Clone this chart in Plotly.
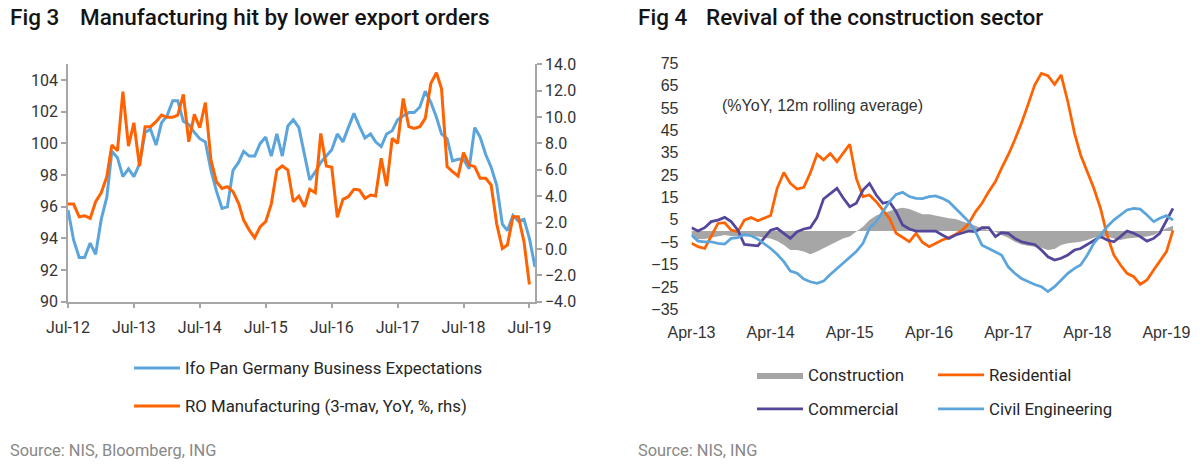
import plotly.graph_objects as go
from datetime import date

W, H = 1200, 466
FONT = "Roboto, 'Open Sans', sans-serif"
ARIAL = "'Liberation Sans', Arial, sans-serif"

# ---------------- data ----------------
ifo_expectations = [
    95.8, 93.9, 92.8, 92.8, 93.7, 93.0, 95.2, 96.6, 99.5, 99.1,
    97.9, 98.4, 97.9, 98.7, 100.7, 100.9, 99.9, 101.3, 101.75, 102.7,
    102.7, 101.4, 101.2, 100.7, 100.3, 100.1, 98.3, 97.0, 95.9, 96.0,
    98.3, 98.8, 99.5, 99.2, 99.2, 100.0, 100.4, 99.2, 100.6, 99.2,
    101.1, 101.5, 101.0, 99.3, 97.7, 98.2, 98.8, 99.2, 99.6, 100.6,
    100.1, 101.0, 101.9, 101.1, 100.35, 100.6, 100.1, 99.8, 100.6, 100.8,
    101.5, 101.75, 101.95, 101.95, 102.3, 103.3, 102.6, 101.65, 100.6, 100.3,
    98.9, 99.0, 99.0, 98.4, 101.0, 100.4, 99.3, 98.5, 97.35, 94.9,
    94.5, 95.45, 95.1, 95.2, 94.0, 92.2,
]
ro_manufacturing = [
    3.40, 3.40, 2.44, 2.52, 2.32, 3.58, 4.26, 5.48, 7.88, 7.45,
    11.92, 7.80, 9.57, 6.29, 9.27, 9.27, 9.65, 10.15, 9.98, 9.98,
    10.15, 11.72, 8.13, 10.2, 9.19, 11.09, 6.74, 5.10, 4.59, 4.72,
    4.34, 3.46, 2.19, 1.43, 0.85, 1.69, 2.07, 3.40, 5.98, 6.29,
    5.98, 3.58, 4.01, 3.20, 4.52, 4.26, 8.76, 6.29, 6.19, 2.40,
    3.76, 3.96, 4.52, 4.47, 3.83, 4.09, 4.01, 6.87, 4.77, 8.38,
    8.00, 11.41, 9.27, 9.14, 9.27, 9.90, 12.55, 13.36, 12.17, 6.24,
    5.86, 5.53, 7.30, 6.37, 6.24, 5.36, 5.36, 4.85, 1.89, 0.04,
    0.30, 2.44, 2.44, 0.55, -2.70,
]
left_tick_labels = ["Jul-12", "Jul-13", "Jul-14", "Jul-15", "Jul-16", "Jul-17", "Jul-18", "Jul-19"]

construction = [
    -2.5, -3.7, -3.6, -3.0, -2.1, -1.8, -2.2, -2.5, -2.5, -2.5,
    -2.5, -3.0, -3.3, -4.5, -6.3, -8.5, -8.5, -9.2, -10.4, -9.2,
    -7.8, -6.3, -4.8, -3.3, -2.5, -0.3, 1.9, 4.9, 6.9, 7.9,
    8.9, 9.8, 10.4, 9.8, 8.6, 7.5, 7.5, 6.9, 6.0, 5.7,
    5.4, 4.2, 3.4, 2.4, 1.2, 0.4, -0.3, -1.8, -3.0, -4.8,
    -6.0, -6.6, -7.0, -7.5, -8.5, -8.0, -6.3, -5.5, -5.1, -4.8,
    -4.0, -3.0, -2.5, -2.5, -3.3, -4.0, -3.3, -3.0, -2.5, -2.5,
    -1.8, -0.3, 1.2, 2.4,
]
residential = [
    -5.5, -7.0, -7.8, -2.5, 3.4, 3.7, 0.4, -0.3, 4.9, 6.0,
    4.6, 5.7, 6.9, 19.1, 26.2, 21.3, 18.8, 19.5, 26.0, 34.3,
    31.8, 34.7, 31.0, 34.7, 38.8, 23.6, 15.4, 16.1, 13.1, 9.4,
    5.7, -1.0, -3.0, -4.8, -1.0, -5.0, -7.0, -5.5, -4.0, -3.0,
    -1.5, 0.4, 3.4, 8.6, 12.4, 17.6, 22.1, 28.0, 34.0, 40.7,
    48.2, 56.4, 65.3, 70.5, 69.5, 65.6, 69.8, 57.8, 43.7, 34.0,
    26.5, 19.1, 10.1, -1.8, -10.7, -15.2, -18.9, -20.4, -23.9, -21.9,
    -17.4, -13.7, -9.2, 0.3,
]
commercial = [
    1.5, 0.0, 1.5, 4.2, 4.9, 6.1, 4.2, 0.4, -6.0, -6.3,
    -6.6, -3.3, 0.4, 1.2, -1.0, -3.3, -0.3, 0.9, 1.5, 6.0,
    14.3, 16.8, 19.1, 14.9, 10.9, 12.4, 18.3, 21.3, 16.1, 12.4,
    13.1, 8.6, 2.7, 0.9, 0.0, 0.0, 0.0, 0.0, -1.8, -3.3,
    -1.8, -1.0, 0.0, -0.3, 1.5, 1.5, -2.5, -0.7, -1.0, -3.3,
    -4.8, -5.5, -6.0, -8.5, -11.5, -13.0, -12.2, -10.7, -8.5, -7.8,
    -6.0, -4.0, -2.5, -4.0, -4.8, -2.5, 0.0, -1.0, -2.5, -4.5,
    -3.3, -1.0, 4.9, 10.1,
]
civil_engineering = [
    -1.8, -4.5, -4.8, -4.8, -5.5, -5.8, -3.3, -3.0, -1.5, -2.1,
    -3.6, -5.5, -7.8, -10.4, -13.7, -17.9, -18.9, -21.5, -22.7, -23.4,
    -22.4, -19.4, -16.7, -14.5, -11.9, -9.2, -5.5, 1.2, 4.2, 8.6,
    13.1, 16.4, 17.3, 15.4, 14.6, 14.5, 15.4, 15.7, 14.6, 13.1,
    10.1, 7.2, 4.2, -0.3, -6.3, -7.8, -9.2, -10.7, -16.0, -18.9,
    -21.2, -22.7, -23.9, -24.9, -27.1, -24.9, -21.9, -18.9, -16.7, -15.2,
    -10.7, -5.5, -1.8, 1.9, 4.9, 7.2, 9.4, 10.1, 9.8, 7.2,
    4.2, 5.7, 6.9, 4.9,
]
right_tick_labels = ["Apr-13", "Apr-14", "Apr-15", "Apr-16", "Apr-17", "Apr-18", "Apr-19"]


def month_dates(year, month, n):
    out = []
    for i in range(n):
        yy = year + (month - 1 + i) // 12
        mm = (month - 1 + i) % 12 + 1
        out.append(date(yy, mm, 1).isoformat())
    return out


left_x_ifo = month_dates(2012, 7, len(ifo_expectations))
left_x_ro = month_dates(2012, 7, len(ro_manufacturing))
left_tickvals = [date(2012 + i, 7, 1).isoformat() for i in range(len(left_tick_labels))]
right_x = month_dates(2013, 4, len(residential))
right_tickvals = [date(2013 + i, 4, 1).isoformat() for i in range(len(right_tick_labels))]

# ---------------- colours ----------------
BLUE = "#5CA5DC"
ORANGE = "#FF6200"
PURPLE = "#52479A"
GREY_AREA = "#A6A6A6"
AXIS = "#A6A6A6"
TXT = "#333333"
LEGTXT = "#262626"


def px_x(p):
    return p / W


def px_y(p):
    return 1 - p / H


fig = go.Figure()

# ---- left chart ----
fig.add_trace(go.Scatter(x=left_x_ifo, y=ifo_expectations, mode="lines",
                         name="Ifo Pan Germany Business Expectations",
                         line=dict(color=BLUE, width=3), xaxis="x", yaxis="y",
                         legend="legend"))
fig.add_trace(go.Scatter(x=left_x_ro, y=ro_manufacturing, mode="lines",
                         name="RO Manufacturing (3-mav, YoY, %, rhs)",
                         line=dict(color=ORANGE, width=3), xaxis="x", yaxis="y2",
                         legend="legend2"))

# ---- right chart ----
fig.add_trace(go.Scatter(x=right_x, y=construction, mode="lines", name="Construction",
                         fill="tozeroy", fillcolor=GREY_AREA,
                         line=dict(color=GREY_AREA, width=0), xaxis="x3", yaxis="y3",
                         legend="legend3"))
fig.add_trace(go.Scatter(x=right_x, y=residential, mode="lines", name="Residential",
                         line=dict(color=ORANGE, width=2.75), xaxis="x3", yaxis="y3",
                         legend="legend4"))
fig.add_trace(go.Scatter(x=right_x, y=commercial, mode="lines", name="Commercial",
                         line=dict(color=PURPLE, width=2.75), xaxis="x3", yaxis="y3",
                         legend="legend5"))
fig.add_trace(go.Scatter(x=right_x, y=civil_engineering, mode="lines", name="Civil Engineering",
                         line=dict(color=BLUE, width=2.75), xaxis="x3", yaxis="y3",
                         legend="legend6"))

left_ydom = [px_y(301.7), px_y(64.3)]
right_ydom = [px_y(309.3), px_y(63.3)]
r_lo, r_hi = -35, 75
zero_pos = right_ydom[0] + (0 - r_lo) / (r_hi - r_lo) * (right_ydom[1] - right_ydom[0])

tickfont_l = dict(family=FONT, size=16, color=TXT)
tickfont_r = dict(family=ARIAL, size=16, color=TXT)

layout = dict(
    width=W, height=H,
    margin=dict(l=0, r=0, t=0, b=0, pad=0, autoexpand=False),
    paper_bgcolor="white", plot_bgcolor="white",
    xaxis=dict(domain=[px_x(68), px_x(535)], anchor="y",
               range=["2012-07-01", "2019-08-01"],
               tickmode="array", tickvals=left_tickvals, ticktext=left_tick_labels,
               showline=True, linecolor=AXIS, linewidth=1.5,
               ticks="outside", ticklen=5, tickcolor=AXIS, tickwidth=1.5,
               showgrid=False, zeroline=False, tickfont=tickfont_l,
               ticklabelstandoff=5, automargin=False),
    yaxis=dict(domain=left_ydom, anchor="x", range=[90, 105],
               tickmode="array", tickvals=list(range(90, 105, 2)),
               showline=True, linecolor=AXIS, linewidth=1.5,
               ticks="outside", ticklen=5, tickcolor=AXIS, tickwidth=1.5,
               showgrid=False, zeroline=False, tickfont=tickfont_l, automargin=False),
    yaxis2=dict(overlaying="y", side="right", anchor="x", range=[-4, 14],
                tickmode="array", tickvals=list(range(-4, 15, 2)), tickformat=".1f",
                showline=True, linecolor=AXIS, linewidth=1.5,
                ticks="outside", ticklen=5, tickcolor=AXIS, tickwidth=1.5,
                showgrid=False, zeroline=False, tickfont=tickfont_l, automargin=False),
    xaxis3=dict(domain=[px_x(691.5), px_x(1176)], anchor="y3",
                range=["2013-04-01", "2019-05-15"],
                tickmode="array", tickvals=right_tickvals, ticktext=right_tick_labels,
                showline=False, ticks="", showgrid=False, zeroline=False,
                tickfont=tickfont_r, ticklabelstandoff=12, automargin=False),
    xaxis4=dict(overlaying="x3", anchor="free", position=zero_pos,
                range=["2013-04-01", "2019-05-15"],
                tickmode="array", tickvals=right_tickvals,
                showticklabels=False, showline=True, linecolor="#A0A0A0", linewidth=2,
                ticks="outside", ticklen=5, tickcolor="#A0A0A0", tickwidth=1.5,
                showgrid=False, zeroline=False, automargin=False),
    yaxis3=dict(domain=right_ydom, anchor="x3", range=[r_lo, r_hi],
                tickmode="array", tickvals=list(range(-35, 76, 10)),
                showline=False, ticks="", showgrid=False, zeroline=False,
                tickfont=tickfont_r, ticklabelstandoff=12, automargin=False),
    showlegend=True,
)


def leg(line_start, y_center):
    return dict(x=px_x(line_start - 5), y=px_y(y_center), xanchor="left", yanchor="middle",
                orientation="v", bgcolor="rgba(0,0,0,0)", borderwidth=0,
                font=dict(family=FONT, size=16.8, color=LEGTXT), itemwidth=46)


layout["legend"] = leg(134, 368)
layout["legend2"] = leg(134, 406)
layout["legend3"] = leg(757, 375)
layout["legend4"] = leg(938, 375)
layout["legend5"] = leg(757, 409)
layout["legend6"] = leg(938, 409)

ann = []


def text(xp, yp, s, size, color, family=FONT, weight=400):
    ann.append(dict(x=px_x(xp), y=px_y(yp), xref="paper", yref="paper", text=s,
                    showarrow=False, xanchor="left", yanchor="middle",
                    font=dict(family=family, size=size, color=color, weight=weight)))


text(8, 17, "Fig 3", 22.5, "#141414", weight=500)
text(78, 17, "Manufacturing hit by lower export orders", 22.5, "#141414", weight=500)
text(636, 17, "Fig 4", 22.5, "#141414", weight=500)
text(704, 17, "Revival of the construction sector", 22.5, "#141414", weight=500)
text(720, 105, "(%YoY, 12m rolling average)", 16, TXT, ARIAL)
text(8, 450, "Source: NIS, Bloomberg, ING", 16.4, "#888888")
text(636, 450, "Source: NIS, ING", 16.4, "#888888")
layout["annotations"] = ann

fig.update_layout(**layout)
# remove the default 8px page margin so the 1200x466 figure fills the window exactly
fig.write_html("out.html", config={"displayModeBar": False},
               post_script="document.body.style.margin='0px';")
